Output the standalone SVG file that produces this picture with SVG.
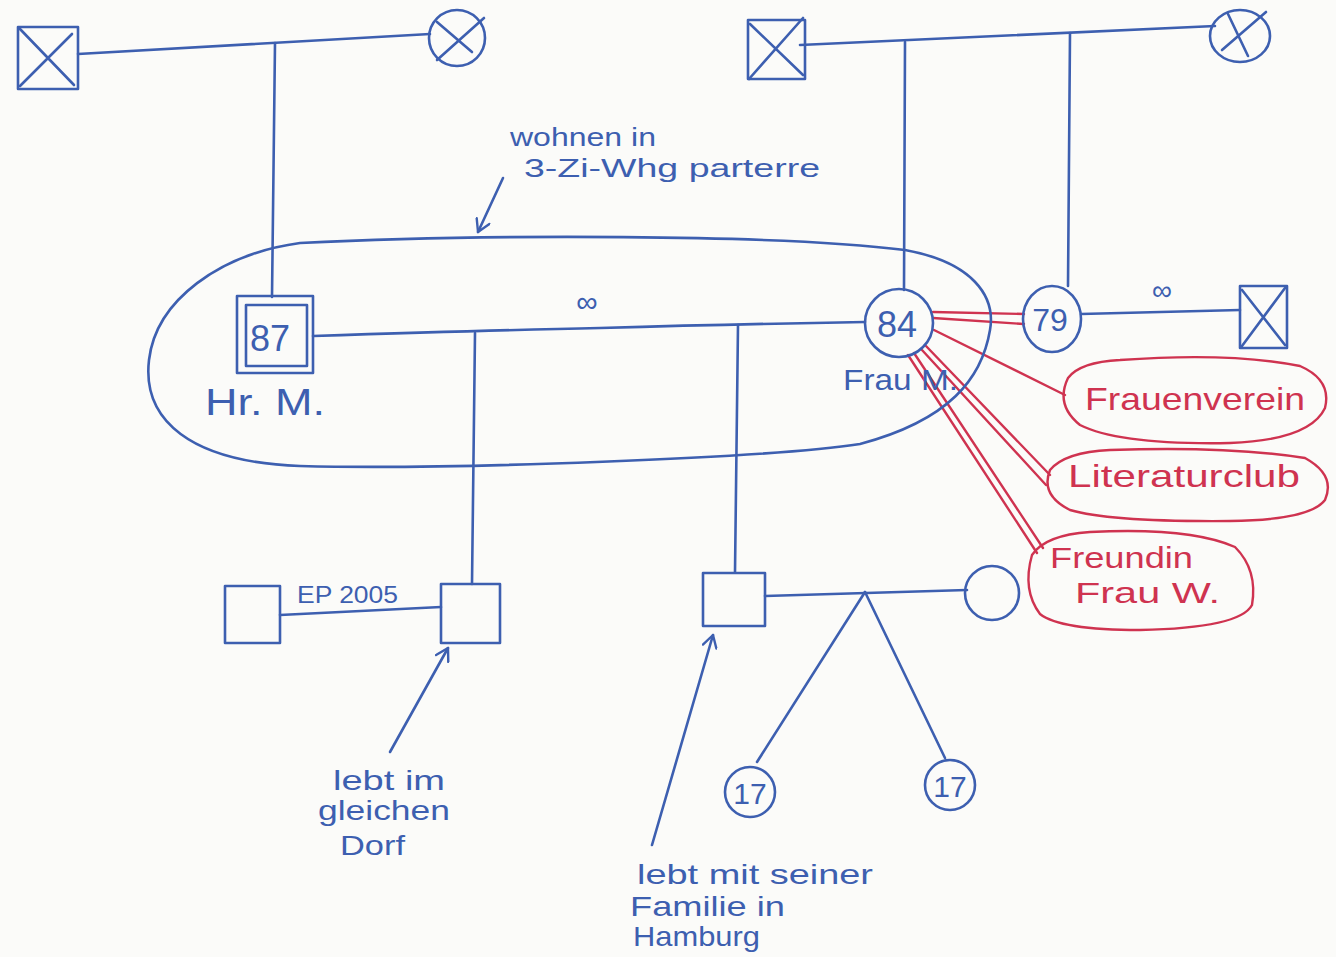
<svg xmlns="http://www.w3.org/2000/svg" width="1336" height="957" viewBox="0 0 1336 957">
<style>
.b{fill:none;stroke:#3d5fb0;stroke-width:2.6;stroke-linecap:round;stroke-linejoin:round}
.r{fill:none;stroke:#cf3350;stroke-width:2.4;stroke-linecap:round;stroke-linejoin:round}
.tb{font-family:"Liberation Sans",Arial,sans-serif;fill:#3d5fb0}
.tr{font-family:"Liberation Sans",Arial,sans-serif;fill:#cf3350}
</style>
<defs>
<marker id="ah" markerWidth="16" markerHeight="16" refX="14" refY="8" orient="auto" markerUnits="userSpaceOnUse">
<path d="M2,1 L14,8 L2,15" fill="none" stroke="#3d5fb0" stroke-width="2.4" stroke-linecap="round" stroke-linejoin="round"/>
</marker>
</defs>
<rect width="1336" height="957" fill="#fbfbf9"/>
<g id="connectors">
<path class="b" d="M78,54 L430,34"/>
<path class="b" d="M275,43 L272,297"/>
<path class="b" d="M800,45 L1215,26"/>
<path class="b" d="M905,42 L904,290"/>
<path class="b" d="M1070,33 L1068,286"/>
<path class="b" d="M313,336 Q500,330 600,328 Q740,324 865,322"/>
<path class="b" d="M475,333 L472,584"/>
<path class="b" d="M738,325 L735,572"/>
<path class="b" d="M1081,314 L1240,310"/>
<path class="b" d="M280,615 L441,607"/>
<path class="b" d="M765,596 L967,590"/>
<path class="b" d="M865,592 L757,762"/>
<path class="b" d="M865,592 L945,758"/>
<path class="b" d="M503,178 L478,232" marker-end="url(#ah)"/>
<path class="b" d="M390,752 L448,648" marker-end="url(#ah)"/>
<path class="b" d="M652,845 L713,635" marker-end="url(#ah)"/>
<path class="r" d="M933,312 L1024,314"/>
<path class="r" d="M933,318 L1024,324"/>
<path class="r" d="M934,330 L1065,395"/>
<path class="r" d="M926,346 L1050,475"/>
<path class="r" d="M922,350 L1046,485"/>
<path class="r" d="M914,353 L1043,548"/>
<path class="r" d="M908,355 L1037,553"/>
</g>
<g id="household">
<path class="b" stroke-width="2" d="M300,243 C480,234 780,234 905,250 C972,262 996,296 990,330 C982,378 950,420 860,444 C770,458 450,470 300,466 C190,462 142,420 149,360 C156,300 220,254 300,243 Z"/>
</g>
<g id="gf1"><rect class="b" x="18" y="27" width="60" height="62"/><path class="b" d="M20,29 L74,85 M72,34 L20,86"/></g>
<g id="gm1"><circle class="b" cx="457" cy="38" r="28"/><path class="b" d="M437,22 L472,52 M484,18 L437,60"/></g>
<g id="gf2"><rect class="b" x="748" y="20" width="57" height="59"/><path class="b" d="M750,24 L803,75 M803,18 L749,79"/></g>
<g id="gm2"><ellipse class="b" cx="1240" cy="36" rx="30" ry="26"/><path class="b" d="M1228,14 L1248,56 M1266,12 L1222,50"/></g>
<g id="hrm">
<rect class="b" x="237" y="296" width="76" height="77"/>
<rect class="b" x="246" y="305" width="61" height="61"/>
<text class="tb" x="270" y="351" font-size="36" text-anchor="middle">87</text>
<text class="tb" x="205" y="415" font-size="36" textLength="120" lengthAdjust="spacingAndGlyphs">Hr. M.</text>
</g>
<text class="tb" x="587" y="312" font-size="30" text-anchor="middle">∞</text>
<g id="fraum">
<circle class="b" cx="899" cy="323" r="34"/>
<text class="tb" x="897" y="337" font-size="36" text-anchor="middle">84</text>
<text class="tb" x="843" y="390" font-size="30" textLength="115" lengthAdjust="spacingAndGlyphs">Frau M.</text>
</g>
<g id="sister">
<ellipse class="b" cx="1052" cy="319" rx="29" ry="33"/>
<text class="tb" x="1050" y="331" font-size="32" text-anchor="middle">79</text>
</g>
<text class="tb" x="1162" y="300" font-size="28" text-anchor="middle">∞</text>
<g id="sisterhusband"><rect class="b" x="1240" y="286" width="47" height="62"/><path class="b" d="M1242,290 L1285,345 M1285,288 L1242,346"/></g>
<g id="frauenverein">
<path class="r" d="M1120,360 Q1230,352 1300,366 Q1332,380 1325,408 Q1310,440 1230,443 Q1120,445 1080,425 Q1055,405 1068,378 Q1080,362 1120,360 Z"/>
<text class="tr" x="1085" y="410" font-size="32" textLength="220" lengthAdjust="spacingAndGlyphs">Frauenverein</text>
</g>
<g id="literaturclub">
<path class="r" d="M1110,450 Q1230,446 1305,458 Q1336,475 1325,500 Q1310,520 1230,521 Q1110,522 1070,510 Q1040,495 1050,470 Q1065,452 1110,450 Z"/>
<text class="tr" x="1068" y="487" font-size="32" textLength="232" lengthAdjust="spacingAndGlyphs">Literaturclub</text>
</g>
<g id="freundin">
<path class="r" d="M1090,532 Q1190,527 1235,547 Q1258,570 1252,605 Q1240,628 1140,630 Q1060,630 1040,614 Q1022,590 1032,555 Q1045,535 1090,532 Z"/>
<text class="tr" x="1050" y="568" font-size="30" textLength="143" lengthAdjust="spacingAndGlyphs">Freundin</text>
<text class="tr" x="1075" y="603" font-size="30" textLength="145" lengthAdjust="spacingAndGlyphs">Frau W.</text>
</g>
<text class="tb" x="510" y="146" font-size="26" textLength="146" lengthAdjust="spacingAndGlyphs">wohnen in</text>
<text class="tb" x="524" y="177" font-size="26" textLength="296" lengthAdjust="spacingAndGlyphs">3-Zi-Whg parterre</text>
<g id="partner"><rect class="b" x="225" y="586" width="55" height="57"/></g>
<text class="tb" x="297" y="603" font-size="24" textLength="101" lengthAdjust="spacingAndGlyphs">EP 2005</text>
<g id="son1"><rect class="b" x="441" y="584" width="59" height="59"/></g>
<g id="son2"><rect class="b" x="703" y="573" width="62" height="53"/></g>
<g id="daughterinlaw"><circle class="b" cx="992" cy="593" r="27"/></g>
<g id="grand1"><circle class="b" cx="750" cy="792" r="25"/><text class="tb" x="750" y="804" font-size="30" text-anchor="middle">17</text></g>
<g id="grand2"><circle class="b" cx="950" cy="785" r="25"/><text class="tb" x="950" y="797" font-size="30" text-anchor="middle">17</text></g>
<text class="tb" x="333" y="790" font-size="28" textLength="112" lengthAdjust="spacingAndGlyphs">lebt im</text>
<text class="tb" x="318" y="820" font-size="28" textLength="132" lengthAdjust="spacingAndGlyphs">gleichen</text>
<text class="tb" x="340" y="855" font-size="28" textLength="65" lengthAdjust="spacingAndGlyphs">Dorf</text>
<text class="tb" x="637" y="884" font-size="28" textLength="236" lengthAdjust="spacingAndGlyphs">lebt mit seiner</text>
<text class="tb" x="630" y="916" font-size="28" textLength="155" lengthAdjust="spacingAndGlyphs">Familie in</text>
<text class="tb" x="633" y="946" font-size="28" textLength="127" lengthAdjust="spacingAndGlyphs">Hamburg</text>
</svg>
